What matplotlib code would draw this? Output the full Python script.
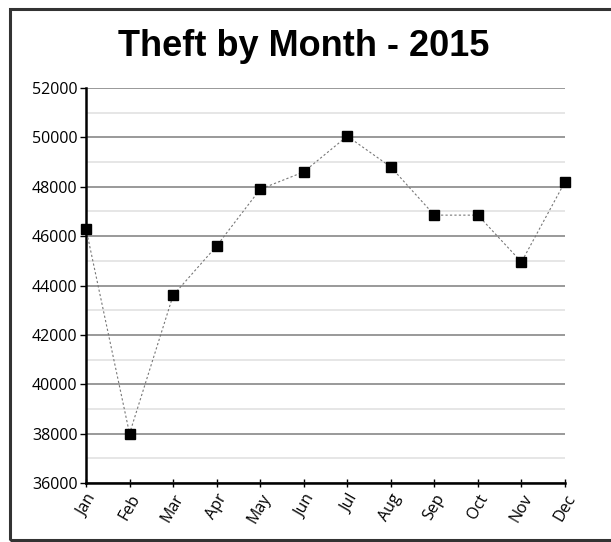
import matplotlib.pyplot as plt
from matplotlib.patches import Rectangle
from matplotlib.ticker import MultipleLocator

months = ["Jan", "Feb", "Mar", "Apr", "May", "Jun", "Jul", "Aug", "Sep", "Oct", "Nov", "Dec"]
thefts = [46300, 38000, 43600, 45600, 47900, 48600, 50050, 48800, 46850, 46850, 44950, 48200]
y_ticks = [36000, 38000, 40000, 42000, 44000, 46000, 48000, 50000, 52000]

fig = plt.figure(figsize=(6.11, 5.42), dpi=100)
ax = fig.add_axes([86/611, 1-483/542, (565-86)/611, (483-88)/542])

# outer frame
fig.add_artist(Rectangle((10/611, 2/542), 1.0, 531/542, transform=fig.transFigure,
                         fill=False, edgecolor="#333333", linewidth=2.2))

x = list(range(len(months)))
ax.plot(x, thefts, color="#777777", linestyle=(0, (2, 2)), linewidth=0.8,
        marker="s", markersize=6.5, markerfacecolor="black", markeredgecolor="black",
        zorder=3, clip_on=False)

ax.set_xlim(0, 11)
ax.set_ylim(36000, 52000)
ax.set_xticks(x)
ax.set_xticklabels(months, rotation=60, ha="right", rotation_mode="anchor",
                   family="Open Sans", fontsize=11.5)
ax.set_yticks(y_ticks)
ax.set_yticklabels([str(v) for v in y_ticks], family="Open Sans", fontsize=11.5)
ax.yaxis.set_minor_locator(MultipleLocator(1000))
ax.grid(which="major", axis="y", color="#888888", linewidth=1.2)
ax.grid(which="minor", axis="y", color="#e2e2e2", linewidth=1.2)
ax.set_axisbelow(True)
ax.tick_params(axis="y", which="minor", length=0)
ax.tick_params(axis="y", which="major", length=4, width=1, pad=2)
ax.tick_params(axis="x", length=6, width=1, direction="inout", pad=3)

for s in ["top", "right"]:
    ax.spines[s].set_visible(False)
for s in ["left", "bottom"]:
    ax.spines[s].set_linewidth(1.8)
    ax.spines[s].set_color("black")

fig.text(304/611, 1-46/542, "Theft by Month - 2015", ha="center", va="center",
         family="Liberation Sans", fontweight="bold", fontsize=26)

fig.savefig("out.png", dpi=100)
